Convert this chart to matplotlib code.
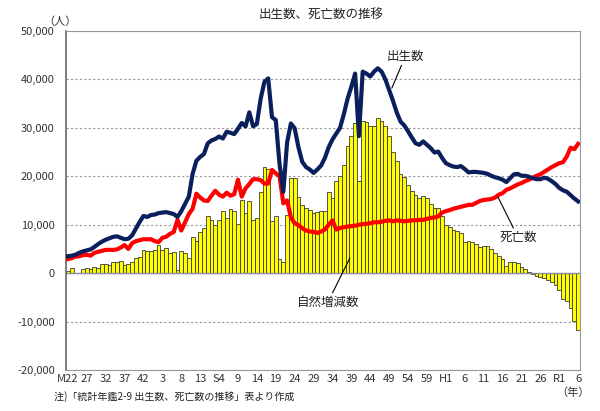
import numpy as np
import matplotlib as mpl
import matplotlib.pyplot as plt

mpl.rcParams['font.family'] = ['Noto Sans CJK JP', 'DejaVu Sans']

years = np.arange(1889, 2025)

# 出生数 (thousands)
births = [3.5, 3.6, 3.8, 4.2, 4.5, 4.7, 4.9, 5.4, 6.0, 6.5,
          6.9, 7.2, 7.5, 7.6, 7.3, 7.0, 7.1, 7.8, 9.2, 10.6,
          11.8, 11.6, 12.0, 12.1, 12.4, 12.5, 12.6, 12.4, 12.2, 11.6,
          12.8, 14.3, 15.8, 20.5, 23.2, 24.0, 24.6, 26.8, 27.4, 27.7,
          28.2, 27.8, 29.2, 29.0, 28.7, 29.8, 31.0, 30.3, 33.2, 30.3,
          30.8, 36.0, 39.5, 40.2, 32.2, 31.6, 22.5, 16.8, 27.0, 30.9,
          29.9, 26.0, 23.0, 21.9, 21.4, 20.7, 21.4, 22.2, 23.8, 26.0,
          27.6, 28.8, 30.0, 32.8, 36.0, 38.5, 41.2, 28.3, 41.6, 41.2,
          40.6, 41.6, 42.3, 41.6, 40.0, 37.8, 35.6, 33.2, 31.3, 30.5,
          29.3, 28.0, 26.8, 26.5, 27.2, 26.5, 25.8, 24.9, 25.1, 23.8,
          22.7, 22.3, 22.0, 21.9, 22.1, 21.5, 20.8, 20.9, 20.9, 20.8,
          20.7, 20.5, 20.1, 19.8, 19.6, 19.3, 18.8, 19.6, 20.4, 20.5,
          20.1, 20.1, 19.9, 19.6, 19.4, 19.4, 19.7, 19.5, 19.0, 18.4,
          17.6, 17.1, 16.8, 16.1, 15.4, 14.8]

# 死亡数 (thousands)
deaths = [2.9, 3.1, 3.4, 3.5, 3.7, 3.8, 3.6, 4.2, 4.4, 4.6,
          4.8, 4.8, 4.8, 4.9, 5.3, 5.8, 5.0, 6.2, 6.6, 6.8,
          7.0, 7.0, 7.0, 6.6, 6.4, 7.3, 7.5, 8.1, 8.5, 11.0,
          8.8, 10.5, 12.2, 13.3, 16.4, 15.6, 15.0, 14.9, 16.0, 17.0,
          16.2, 15.8, 16.6, 16.0, 16.3, 19.3, 15.8, 17.5, 18.4, 19.4,
          19.4, 19.2, 18.5, 18.5, 21.3, 20.6, 20.0, 14.4, 15.0, 11.5,
          10.3, 9.9, 9.3, 8.8, 8.6, 8.5, 8.3, 8.6, 9.0, 10.0,
          10.9, 9.0, 9.3, 9.5, 9.6, 9.7, 9.8, 10.0, 10.1, 10.2,
          10.3, 10.5, 10.5, 10.6, 10.8, 10.9, 10.7, 10.9, 10.8, 10.7,
          10.8, 10.9, 10.9, 11.0, 11.0, 11.2, 11.4, 11.5, 11.7, 12.5,
          12.8, 13.0, 13.3, 13.5, 13.7, 13.9, 14.1, 14.1, 14.5, 14.9,
          15.1, 15.2, 15.3, 15.6, 16.2, 16.5, 17.2, 17.5, 17.9, 18.3,
          18.6, 19.0, 19.3, 19.7, 20.1, 20.4, 20.9, 21.4, 21.9, 22.3,
          22.7, 22.9, 24.1, 25.9, 25.6, 26.7]

# 自然増減数 (thousands)
natural = [0.5, 1.0, 0.1, 0.1, 0.8, 1.0, 0.8, 1.2, 1.0, 1.8,
           1.8, 1.7, 2.4, 2.4, 2.6, 1.6, 1.8, 2.4, 3.1, 3.3,
           4.8, 4.6, 4.5, 4.7, 5.9, 4.7, 5.2, 4.1, 4.3, 0.6,
           4.5, 4.1, 3.1, 7.4, 6.7, 8.5, 9.3, 11.7, 11.0, 10.0,
           11.0, 12.8, 11.4, 13.2, 12.9, 10.2, 15.0, 12.5, 14.8, 11.0,
           11.3, 16.7, 22.0, 21.6, 10.7, 11.7, 2.9, 2.4, 12.0, 19.6,
           19.6, 15.8, 14.1, 13.4, 13.1, 12.4, 12.7, 12.8, 12.9, 16.7,
           15.5, 19.0, 20.0, 22.4, 26.2, 28.4, 31.1, 19.0, 31.5, 31.3,
           30.4, 30.3, 32.0, 31.5, 30.4, 28.4, 25.1, 23.1, 20.5, 19.8,
           18.1, 17.0, 16.1, 15.6, 16.0, 15.5, 14.3, 13.4, 13.5, 11.7,
           10.0, 9.5, 9.0, 8.7, 8.3, 6.5, 6.6, 6.5, 6.1, 5.4,
           5.6, 5.5, 4.9, 4.1, 3.5, 3.0, 1.5, 2.3, 2.3, 2.0,
           1.3, 0.8, 0.3, -0.2, -0.5, -0.8, -1.0, -1.4, -1.8, -2.5,
           -3.4, -5.3, -5.8, -7.3, -9.8, -11.8]

tick_years = np.arange(1889, 2025, 5)
tick_labels = ['M22', '27', '32', '37', '42', '3', '8', '13', 'S4', '9', '14',
               '19', '24', '29', '34', '39', '44', '49', '54', '59', 'H1', '6',
               '11', '16', '21', '26', 'R1', '6']

births = np.array(births) * 1000
deaths = np.array(deaths) * 1000
natural = np.array(natural) * 1000

fig = plt.figure(figsize=(6.0, 4.11), dpi=100)
ax = fig.add_axes([0.11, 0.0998, 0.8567, 0.8248])

ax.bar(years, natural, width=1.0, color='#FFFF00', edgecolor='#3a3a3a',
       linewidth=0.6, zorder=2)
ax.axhline(0, color='#8c8ca0', lw=1.0, zorder=2.5)
ax.plot(years, deaths, color='#FF0000', lw=3.0, zorder=3, solid_joinstyle='round')
ax.plot(years, births, color='#0A1F5C', lw=3.0, zorder=4, solid_joinstyle='round')

ax.set_xlim(1888.5, 2024.5)
ax.set_ylim(-20000, 50000)
ax.set_yticks(np.arange(-20000, 50001, 10000))
ax.yaxis.set_major_formatter(mpl.ticker.FuncFormatter(lambda v, p: f'{int(v):,}'))
ax.set_xticks(tick_years)
ax.set_xticklabels(tick_labels)
ax.tick_params(axis='both', length=0, labelsize=8, colors='#333333')
ax.tick_params(axis='x', pad=3)
ax.tick_params(axis='y', pad=8)

ax.grid(axis='y', color='#999999', linestyle=(0, (2, 2)), linewidth=0.8, zorder=1)
for s in ['top', 'right', 'bottom']:
    ax.spines[s].set_color('#999999')
ax.spines['left'].set_color('#666666')
ax.spines['left'].set_linewidth(1.2)

fig.text(0.535, 0.962, '出生数、死亡数の推移', ha='center', va='center', fontsize=9, color='#222222')
fig.text(0.1, 0.947, '（人）', ha='center', va='center', fontsize=8, color='#333333')
fig.text(0.955, 0.044, '（年）', ha='center', va='center', fontsize=8, color='#333333')
fig.text(0.09, 0.036, '注)「統計年鑑2-9 出生数、死亡数の推移」表より作成', ha='left', va='center',
         fontsize=7.2, color='#222222')

arrow = dict(arrowstyle='-', color='black', lw=0.8, shrinkA=0, shrinkB=0)
ax.annotate('出生数', xy=(1974.7, 38200), xytext=(1978.3, 44800), ha='center', va='center',
            fontsize=9, color='#222222', arrowprops=arrow)
ax.annotate('死亡数', xy=(2002.8, 15700), xytext=(2008.1, 7400), ha='center', va='center',
            fontsize=9, color='#222222', arrowprops=arrow)
ax.annotate('自然増減数', xy=(1963.6, 3100), xytext=(1957.8, -6000), ha='center', va='center',
            fontsize=9, color='#222222', arrowprops=arrow)

plt.savefig('out.png', dpi=100)
